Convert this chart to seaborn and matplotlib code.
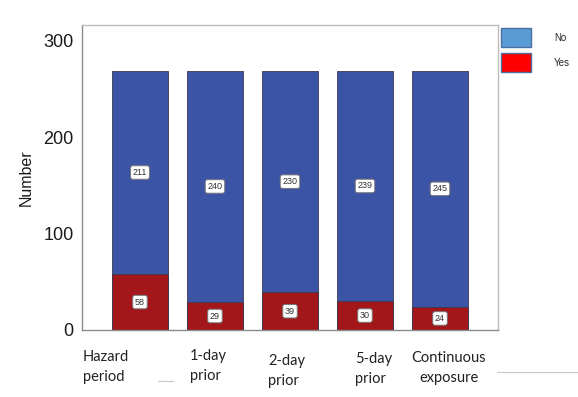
import numpy as np
import pandas as pd
import matplotlib
matplotlib.use("Agg")
import matplotlib.pyplot as plt
from matplotlib.patches import Rectangle
from matplotlib.lines import Line2D
import seaborn as sns

# data
periods = ["Hazard\nperiod", "1-day\nprior", "2-day\nprior", "5-day\nprior", "Continuous\nexposure"]
no_counts = [211, 240, 230, 239, 245]
yes_counts = [58, 29, 39, 30, 24]

df = pd.DataFrame({"period": periods, "No": no_counts, "Yes": yes_counts})
df["Total"] = df["No"] + df["Yes"]

sns.set_style("white")
plt.rcParams["font.family"] = ["Liberation Sans", "DejaVu Sans"]

W, H = 578, 397
fig = plt.figure(figsize=(W / 100, H / 100), dpi=100)
ax = fig.add_axes([82 / W, 1 - 330 / H, (498 - 82) / W, (330 - 25) / H])

blue = "#3B54A6"
red = "#A3171A"
sns.barplot(data=df, x="period", y="Total", color=blue, width=0.75,
            edgecolor="#3a3a50", linewidth=0.6, saturation=1, ax=ax)
sns.barplot(data=df, x="period", y="Yes", color=red, width=0.75,
            edgecolor="#3a3a50", linewidth=0.6, saturation=1, ax=ax)

ax.set_xlim(-0.773, 4.773)
ax.set_ylim(0, 316.6)
ax.set_yticks([0, 100, 200, 300])
ax.tick_params(axis="y", labelsize=13, length=5, width=0.8, color="#555555",
               pad=1, labelcolor="#1a1a1a")
ax.tick_params(axis="x", length=3, width=0.8, color="#777777", labelbottom=False)
ax.set_xlabel("")
ax.set_ylabel("Number", fontsize=11.5, labelpad=7, color="#1a1a1a")
for s in ax.spines.values():
    s.set_color("#bdbdbd")
    s.set_linewidth(1.0)
ax.spines["left"].set_color("#8a8a8a")
ax.spines["bottom"].set_color("#8a8a8a")

# value boxes
box = dict(boxstyle="round,pad=0.25", fc="white", ec="#777777", lw=0.7)
for i, (n, y) in enumerate(zip(no_counts, yes_counts)):
    ax.text(i, y + n / 2, str(n), ha="center", va="center", fontsize=6.5, color="#333333", bbox=box)
    ax.text(i, y / 2, str(y), ha="center", va="center", fontsize=6.5, color="#333333", bbox=box)

# category labels placed below the axis
label_pos = [(83, 367, "left"), (190, 366, "left"), (268, 371, "left"),
             (355, 369, "left"), (449, 368, "center")]
for text, (px, py, ha) in zip(periods, label_pos):
    fig.text(px / W, 1 - py / H, text, ha=ha, va="center", fontsize=10.5,
             family=["Lato", "DejaVu Sans"], color="#222222", linespacing=1.5)

# stray gray strokes
fig.add_artist(Line2D([158 / W, 173 / W], [1 - 381 / H] * 2, color="#c8c8c8", lw=0.8))
fig.add_artist(Line2D([497 / W, 578 / W], [1 - 372 / H] * 2, color="#c8c8c8", lw=0.8))

# legend
leg = [("No", "#5B9BD5", 28), ("Yes", "#FF0000", 53)]
for lab, col, top in leg:
    fig.add_artist(Rectangle((501 / W, 1 - (top + 19) / H), 30 / W, 19 / H,
                             transform=fig.transFigure, fc=col, ec="#4a6fa0", lw=1.0))
    fig.text(554 / W, 1 - (top + 10) / H, lab, ha="left", va="center", fontsize=7,
             color="#222222")

fig.savefig("out.png", dpi=100)
